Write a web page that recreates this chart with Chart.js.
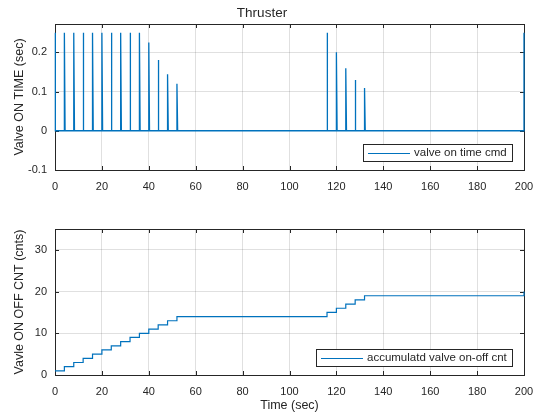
<!DOCTYPE html>
<html>
<head>
<meta charset="utf-8">
<script src="https://cdn.jsdelivr.net/npm/chart.js@4/dist/chart.umd.min.js"></script>
<style>
  html, body { margin: 0; padding: 0; background: #ffffff; }
  #wrap { position: relative; width: 544px; height: 417px; overflow: hidden; }
  #c1 { position: absolute; left: 0; top: 0; }
  #c2 { position: absolute; left: 0; top: 200px; }
</style>
</head>
<body>
<div id="wrap">
  <canvas id="c1" width="544" height="200"></canvas>
  <canvas id="c2" width="544" height="217"></canvas>
</div>
<script>
// ---- Data ----
const spikeTimes   = [0, 4, 8, 12, 16, 20, 24, 28, 32, 36, 40, 44, 48, 52, 116, 120, 124, 128, 132, 200];
const spikeHeights = [0.25, 0.25, 0.25, 0.25, 0.25, 0.25, 0.25, 0.25, 0.25, 0.25, 0.225, 0.18, 0.144, 0.12, 0.25, 0.2, 0.159, 0.129, 0.109, 0.25];
const countValues  = [1, 2, 3, 4, 5, 6, 7, 8, 9, 10, 11, 12, 13, 14, 15, 16, 17, 18, 19, 20];
const timeEnd = 200;
const xTickValues = [0, 20, 40, 60, 80, 100, 120, 140, 160, 180, 200];
const topYTickValues = [-0.1, 0, 0.1, 0.2];
const bottomYTickValues = [0, 10, 20, 30];
const topTitle = 'Thruster';
const topYLabel = 'Valve ON TIME (sec)';
const bottomYLabel = 'Vavle ON OFF CNT (cnts)';
const xLabel = 'Time (sec)';
const topLegend = 'valve on time cmd';
const bottomLegend = 'accumulatd valve on-off cnt';

// ---- Build series ----
const spikePulseWidth = 0.3;
const topData = [];
spikeTimes.forEach((t, i) => {
  topData.push({x: t, y: 0});
  topData.push({x: t, y: spikeHeights[i]});
  topData.push({x: Math.min(t + spikePulseWidth, timeEnd), y: 0});
});

const bottomData = spikeTimes.map((t, i) => ({x: t, y: countValues[i]}));

// ---- Styling ----
const LINE = '#0072BD';
const AXIS = '#262626';
const GRID = 'rgba(38,38,38,0.14)';
const FONT = "'Liberation Sans', Arial, Helvetica, sans-serif";

const boxPlugin = {
  id: 'matlabBox',
  beforeDatasetsDraw(chart) {
    const {ctx, chartArea: a, scales} = chart;
    ctx.save();
    ctx.strokeStyle = AXIS;
    ctx.lineWidth = 1;
    const tl = 4;
    ctx.beginPath();
    scales.x.ticks.forEach(tk => {
      const px = Math.round(scales.x.getPixelForValue(tk.value)) + 0.5;
      ctx.moveTo(px, a.bottom); ctx.lineTo(px, a.bottom - tl);
      ctx.moveTo(px, a.top); ctx.lineTo(px, a.top + tl);
    });
    scales.y.ticks.forEach(tk => {
      const py = Math.round(scales.y.getPixelForValue(tk.value)) + 0.5;
      ctx.moveTo(a.left, py); ctx.lineTo(a.left + tl, py);
      ctx.moveTo(a.right, py); ctx.lineTo(a.right - tl, py);
    });
    ctx.stroke();
    ctx.strokeRect(Math.round(a.left) + 0.5, Math.round(a.top) + 0.5,
                   Math.round(a.right - a.left), Math.round(a.bottom - a.top));
    ctx.restore();
  },
  afterDatasetsDraw(chart, args, opts) {
    const {ctx, chartArea: a} = chart;
    ctx.save();
    ctx.lineWidth = 1;
    const text = opts.text;
    ctx.font = "11.5px " + FONT;
    const tw = ctx.measureText(text).width;
    const h = 17;
    const w = Math.round(tw + 56);
    const right = Math.round(a.right) - 12;
    const bottom = Math.round(a.bottom) - 9;
    const left = right - w, top = bottom - h;
    ctx.fillStyle = '#ffffff';
    ctx.fillRect(left, top, w, h);
    ctx.strokeStyle = AXIS;
    ctx.strokeRect(left + 0.5, top + 0.5, w, h);
    ctx.strokeStyle = LINE;
    ctx.lineWidth = 1.2;
    ctx.beginPath();
    const ly = Math.round(top + h / 2) + 0.5;
    ctx.moveTo(left + 5, ly); ctx.lineTo(left + 47, ly);
    ctx.stroke();
    ctx.fillStyle = AXIS;
    ctx.textBaseline = 'middle';
    ctx.textAlign = 'left';
    ctx.fillText(text, left + 51, top + h / 2 + 0.5);
    ctx.restore();
  }
};

function xScale(showTitle, height) {
  return {
    type: 'linear',
    min: 0, max: timeEnd,
    afterBuildTicks: s => { s.ticks = xTickValues.map(v => ({value: v})); },
    afterFit: s => { s.height = height; },
    ticks: { color: AXIS, font: {family: FONT, size: 11}, padding: 10, maxRotation: 0, autoSkip: false,
             callback: v => String(v) },
    grid: { color: GRID, drawTicks: false },
    border: { display: false },
    title: { display: showTitle, text: xLabel, color: AXIS, font: {family: FONT, size: 12.5}, padding: {top: 0, bottom: 4} }
  };
}

function yScale(min, max, tickVals, label) {
  return {
    type: 'linear',
    min: min, max: max,
    afterBuildTicks: s => { s.ticks = tickVals.map(v => ({value: v})); },
    afterFit: s => { s.width = 55; },
    ticks: { color: AXIS, font: {family: FONT, size: 11}, padding: 8, autoSkip: false,
             callback: v => String(v) },
    grid: { color: GRID, drawTicks: false },
    border: { display: false },
    title: { display: true, text: label, color: AXIS, font: {family: FONT, size: 12.5}, padding: {top: 12, bottom: 0} }
  };
}

new Chart(document.getElementById('c1'), {
  type: 'line',
  data: { datasets: [{ label: topLegend, data: topData, borderColor: LINE, borderWidth: 1.3,
                       pointRadius: 0, fill: false, tension: 0, clip: 2 }] },
  options: {
    responsive: false, animation: false, devicePixelRatio: 1,
    layout: { padding: { left: 0, right: 20, top: 0, bottom: 0 } },
    plugins: {
      legend: { display: false }, tooltip: { enabled: false },
      title: { display: true, text: topTitle, color: AXIS, font: {family: FONT, size: 13.5, weight: 'normal'},
               padding: {top: 5.5, bottom: 2.3} },
      matlabBox: { text: topLegend }
    },
    scales: { x: xScale(false, 30), y: yScale(-0.1, 0.272, topYTickValues, topYLabel) }
  },
  plugins: [boxPlugin]
});

new Chart(document.getElementById('c2'), {
  type: 'line',
  data: { datasets: [{ label: bottomLegend, data: bottomData, borderColor: LINE, borderWidth: 1.2,
                       pointRadius: 0, fill: false, stepped: 'before', clip: 2 }] },
  options: {
    responsive: false, animation: false, devicePixelRatio: 1,
    layout: { padding: { left: 0, right: 20, top: 29, bottom: 0 } },
    plugins: {
      legend: { display: false }, tooltip: { enabled: false },
      matlabBox: { text: bottomLegend }
    },
    scales: { x: xScale(true, 42), y: yScale(0, 35, bottomYTickValues, bottomYLabel) }
  },
  plugins: [boxPlugin]
});
</script>
</body>
</html>
